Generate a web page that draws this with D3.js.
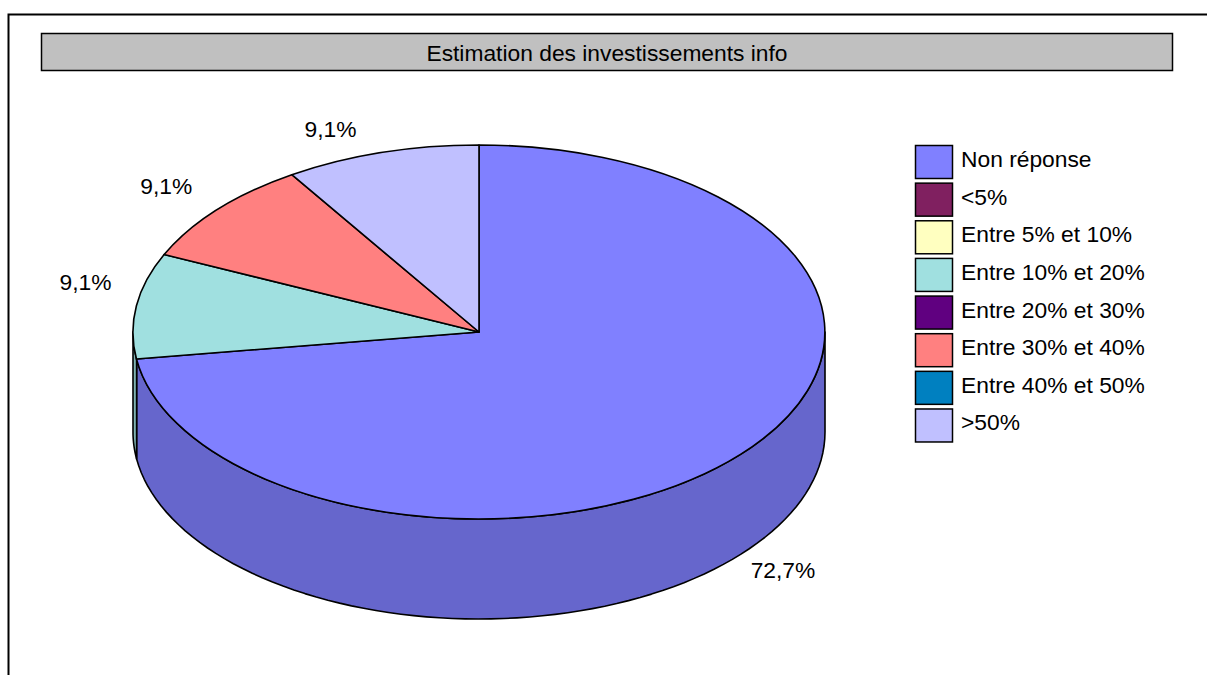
<!DOCTYPE html>
<html>
<head>
    <script src="https://cdnjs.cloudflare.com/ajax/libs/d3/7.8.5/d3.min.js"></script>
    <style>
        body { margin: 0; background: #fff; }
        text { font-family: Arial, "Liberation Sans", sans-serif; fill: #000; }
    </style>
</head>
<body>
    <div id="chart"></div>

    <script>
        const title = "Estimation des investissements info";
        const categories = ["Non réponse", "<5%", "Entre 5% et 10%", "Entre 10% et 20%",
                            "Entre 20% et 30%", "Entre 30% et 40%", "Entre 40% et 50%", ">50%"];
        const values = [72.7, 0, 0, 9.1, 0, 9.1, 0, 9.1];
        const colors = ["#8080ff", "#802060", "#ffffc0", "#a0e0e0", "#600080", "#ff8080", "#0080c0", "#c0c0ff"];

        const width = 1207;
        const height = 675;
        const fontSize = 22.8;

        // ellipse of the 3d pie
        const cx = 479, cy = 332, rx = 346, ry = 187, depth = 100;

        const svg = d3.select("#chart")
            .append("svg")
            .attr("width", width)
            .attr("height", height);

        // outer frame (runs off the right and bottom)
        svg.append("rect")
            .attr("x", 8.5).attr("y", 14.5)
            .attr("width", width + 20).attr("height", height + 20)
            .attr("fill", "none")
            .attr("stroke", "#000")
            .attr("stroke-width", 2);

        // title box
        svg.append("rect")
            .attr("x", 41.5).attr("y", 33.5)
            .attr("width", 1131).attr("height", 37)
            .attr("fill", "#c0c0c0")
            .attr("stroke", "#000")
            .attr("stroke-width", 1.5);

        svg.append("text")
            .attr("x", 41.5 + 1131 / 2)
            .attr("y", 61)
            .attr("text-anchor", "middle")
            .style("font-size", fontSize + "px")
            .text(title);

        const pie = d3.pie().sort(null).value(d => d).startAngle(0).endAngle(2 * Math.PI);
        const arcs = pie(values).map((d, i) => ({...d, name: categories[i], color: colors[i]}));

        const px = a => cx + rx * Math.sin(a);
        const py = a => cy - ry * Math.cos(a);

        const shade = c => {
            const r = d3.rgb(c);
            return d3.rgb(r.r * 0.8, r.g * 0.8, r.b * 0.8).formatHex();
        };

        // side faces, only the front half shows
        const line = d3.line().x(d => d[0]).y(d => d[1]);
        const sideGroup = svg.append("g");
        arcs.filter(d => d.value > 0).forEach(d => {
            const a0 = Math.max(d.startAngle, Math.PI / 2);
            const a1 = Math.min(d.endAngle, 3 * Math.PI / 2);
            if (a1 <= a0) return;
            const steps = d3.range(0, 81).map(k => a0 + (a1 - a0) * k / 80);
            const pts = steps.map(a => [px(a), py(a)])
                .concat(steps.slice().reverse().map(a => [px(a), py(a) + depth]));
            sideGroup.append("path")
                .attr("d", line(pts) + "Z")
                .attr("fill", shade(d.color))
                .attr("stroke", "#000")
                .attr("stroke-width", 1.6)
                .attr("stroke-linejoin", "round");
        });

        // top faces
        const arc = d3.arc().innerRadius(0).outerRadius(1);
        svg.append("g")
            .attr("transform", `translate(${cx},${cy}) scale(${rx},${ry})`)
            .selectAll("path")
            .data(arcs.filter(d => d.value > 0))
            .join("path")
            .attr("d", arc)
            .attr("fill", d => d.color)
            .attr("stroke", "#000")
            .attr("stroke-width", 1.6)
            .attr("vector-effect", "non-scaling-stroke")
            .attr("stroke-linejoin", "round");

        // percentage labels
        const fmt = v => d3.format(".1f")(v).replace(".", ",") + "%";
        arcs.filter(d => d.value > 0).forEach(d => {
            const m = (d.startAngle + d.endAngle) / 2;
            let x = px(m), y = py(m);
            const front = Math.cos(m) < 0;
            if (front) y += depth;
            const left = Math.sin(m) < 0;
            const t = svg.append("text")
                .style("font-size", fontSize + "px")
                .text(fmt(d.value));
            if (left) {
                t.attr("x", x - 25).attr("y", y - 16).attr("text-anchor", "end");
            } else {
                t.attr("x", x + 10).attr("y", y + 8 + 16).attr("text-anchor", "start");
            }
        });

        // legend
        const legendY = d3.scaleBand()
            .domain(categories)
            .range([143, 143 + 37.64 * categories.length]);

        const legend = svg.append("g")
            .selectAll("g")
            .data(categories)
            .join("g")
            .attr("transform", d => `translate(915,${legendY(d)})`);

        legend.append("rect")
            .attr("x", 0.5).attr("y", 2.5)
            .attr("width", 37).attr("height", 33)
            .attr("fill", (d, i) => colors[i])
            .attr("stroke", "#000")
            .attr("stroke-width", 1.5);

        legend.append("text")
            .attr("x", 46)
            .attr("y", 24)
            .style("font-size", fontSize + "px")
            .text(d => d);
    </script>
</body>
</html>
